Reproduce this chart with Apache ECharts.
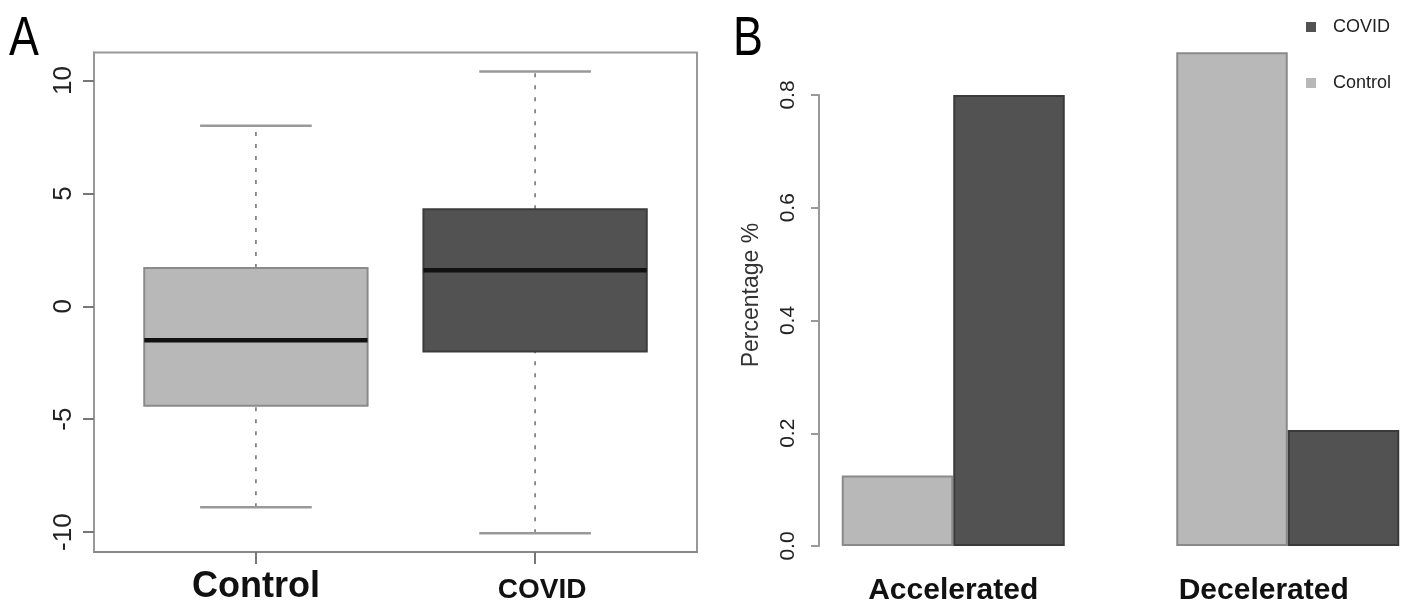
<!DOCTYPE html>
<html><head><meta charset="utf-8">
<script src="https://cdn.jsdelivr.net/npm/echarts@6/dist/echarts.min.js"></script>
<style>html,body{margin:0;padding:0;background:#fff}#c{width:1407px;height:604px}</style>
</head><body><div id="c"></div>
<script>
// ---- Panel A: boxplot data ----
const boxCategories = ['Control', 'COVID'];
const boxMin = [-8.9, -10.05];
const boxQ1 = [-4.4, -2.0];
const boxMedian = [-1.5, 1.6];
const boxQ3 = [1.7, 4.3];
const boxMax = [8.0, 10.4];
const boxTicks = [-10, -5, 0, 5, 10];

// ---- Panel B: bar data ----
const barCategories = ['Accelerated', 'Decelerated'];
const controlPct = [0.125, 0.876];
const covidPct = [0.80, 0.206];
const pctTicks = [0, 0.2, 0.4, 0.6, 0.8];

// styles
const boxFill = ['#b8b8b8', '#525252'];
const boxStroke = ['#8a8a8a', '#3c3c3c'];
const FONT = 'Liberation Sans, Arial, Helvetica, sans-serif';

const boxData = boxCategories.map((c, i) => [i + 1, boxMin[i], boxQ1[i], boxMedian[i], boxQ3[i], boxMax[i]]);

const chart = echarts.init(document.getElementById('c'), null, {renderer: 'canvas'});

chart.setOption({
  animation: false,
  backgroundColor: '#fff',
  textStyle: {fontFamily: FONT},
  graphic: [
    {type: 'text', x: 9, y: 40, scaleX: 0.8, style: {text: 'A', font: '56px ' + FONT, fill: '#000', verticalAlign: 'middle'}},
    {type: 'text', x: 733, y: 40, scaleX: 0.8, style: {text: 'B', font: '56px ' + FONT, fill: '#000', verticalAlign: 'middle'}}
  ],
  legend: {
    orient: 'vertical',
    left: 1301, top: 13,
    itemWidth: 10, itemHeight: 10, itemGap: 38,
    icon: 'rect',
    data: [
      {name: 'COVID', itemStyle: {color: '#525252', borderWidth: 0}},
      {name: 'Control', itemStyle: {color: '#b8b8b8', borderWidth: 0}}
    ],
    textStyle: {fontSize: 18, color: '#222', fontFamily: FONT, padding: [0, 0, 0, 12]}
  },
  grid: [
    {left: 94, top: 52.5, width: 603, height: 499.5, show: true, borderColor: '#999', borderWidth: 2, backgroundColor: 'transparent', outerBoundsMode: 'none'},
    {left: 786, top: 52.2, width: 669, height: 493.8, outerBoundsMode: 'none'},
    {left: 819, top: 95, width: 10, height: 451, outerBoundsMode: 'none'}
  ],
  xAxis: [
    {
      gridIndex: 0, type: 'value', min: 0.42, max: 2.58,
      splitLine: {show: false},
      axisLine: {show: true, onZero: false, lineStyle: {color: '#888', width: 2}},
      axisTick: {show: true, customValues: [1, 2], length: 12, lineStyle: {color: '#777', width: 2}},
      axisLabel: {
        customValues: [1, 2], margin: 17,
        formatter: v => { const i = Math.round(v) - 1; return '{s' + i + '|' + boxCategories[i] + '}'; },
        rich: {
          s0: {fontSize: 36, fontWeight: 'bold', color: '#111', fontFamily: FONT},
          s1: {fontSize: 28, fontWeight: 'bold', color: '#111', fontFamily: FONT, padding: [7, 0, 0, 14]}
        }
      }
    },
    {
      gridIndex: 1, type: 'category', data: barCategories,
      axisLine: {show: false}, axisTick: {show: false},
      axisLabel: {
        margin: 30,
        formatter: (v, i) => '{s' + i + '|' + v + '}',
        rich: {
          s0: {fontSize: 30, fontWeight: 'bold', color: '#111', fontFamily: FONT},
          s1: {fontSize: 30, fontWeight: 'bold', color: '#111', fontFamily: FONT, padding: [0, 48, 0, 0]}
        }
      }
    },
    {gridIndex: 2, type: 'value', show: false}
  ],
  yAxis: [
    {
      gridIndex: 0, type: 'value', min: -10.88, max: 11.24,
      splitLine: {show: false},
      axisLine: {show: true, lineStyle: {color: '#999', width: 2}},
      axisTick: {show: true, customValues: boxTicks, length: 11, lineStyle: {color: '#777', width: 2}},
      axisLabel: {customValues: boxTicks, rotate: 90, fontSize: 26, color: '#222', margin: 17, fontFamily: FONT}
    },
    {
      gridIndex: 1, type: 'value', min: 0, max: 0.876,
      splitLine: {show: false}, axisLine: {show: false}, axisTick: {show: false}, axisLabel: {show: false},
      name: 'Percentage %', nameLocation: 'middle', nameRotate: 90, nameGap: 23,
      nameTextStyle: {fontSize: 23, color: '#333', fontFamily: FONT, padding: [0, 0, 0, 8]}
    },
    {
      gridIndex: 2, type: 'value', min: 0, max: 0.8, interval: 0.2,
      splitLine: {show: false},
      axisLine: {show: true, lineStyle: {color: '#999', width: 2}},
      axisTick: {show: true, length: 8, lineStyle: {color: '#999', width: 2}},
      axisLabel: {rotate: 90, fontSize: 21, color: '#222', margin: 20, fontFamily: FONT, formatter: v => v.toFixed(1)}
    }
  ],
  series: [
    {
      type: 'custom', name: 'box', xAxisIndex: 0, yAxisIndex: 0,
      data: boxData,
      encode: {x: 0, y: [1, 2, 3, 4, 5]},
      renderItem: function (params, api) {
        const x = api.value(0);
        const vmin = api.value(1), q1 = api.value(2), med = api.value(3), q3 = api.value(4), vmax = api.value(5);
        const i = params.dataIndex;
        const c = (xx, yy) => api.coord([xx, yy]);
        const hb = 0.4, hc = 0.2;
        const bTL = c(x - hb, q3), bBR = c(x + hb, q1);
        const line = (a, b, style) => ({type: 'line', shape: {x1: a[0], y1: a[1], x2: b[0], y2: b[1]}, style: style});
        const dash = {stroke: '#777', lineWidth: 1.6, lineDash: [4, 8]};
        const cap = {stroke: '#999', lineWidth: 2.5};
        return {
          type: 'group',
          children: [
            line(c(x, q3), c(x, vmax), dash),
            line(c(x, vmin), c(x, q1), dash),
            line(c(x - hc, vmax), c(x + hc, vmax), cap),
            line(c(x - hc, vmin), c(x + hc, vmin), cap),
            {type: 'rect', shape: {x: bTL[0], y: bTL[1], width: bBR[0] - bTL[0], height: bBR[1] - bTL[1]},
             style: {fill: boxFill[i], stroke: boxStroke[i], lineWidth: 2}},
            line(c(x - hb, med), c(x + hb, med), {stroke: '#111', lineWidth: 4.5})
          ]
        };
      }
    },
    {
      type: 'bar', name: 'Control', xAxisIndex: 1, yAxisIndex: 1,
      data: controlPct, barGap: '0%', barCategoryGap: '33.333%',
      itemStyle: {color: '#b8b8b8', borderColor: '#8a8a8a', borderWidth: 2}
    },
    {
      type: 'bar', name: 'COVID', xAxisIndex: 1, yAxisIndex: 1,
      data: covidPct, barGap: '0%', barCategoryGap: '33.333%',
      itemStyle: {color: '#525252', borderColor: '#3a3a3a', borderWidth: 2}
    }
  ]
});
</script>
</body></html>
